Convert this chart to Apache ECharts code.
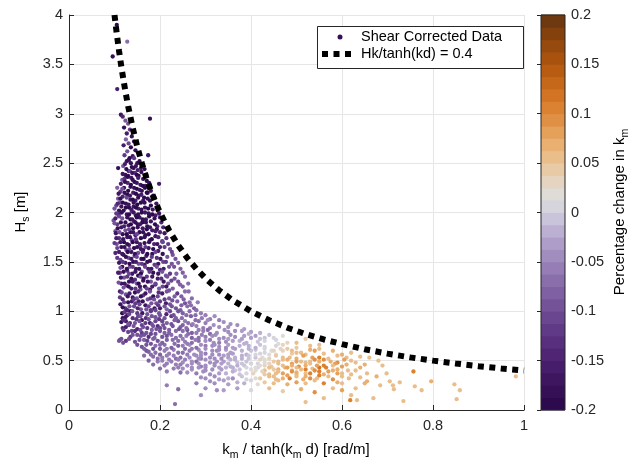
<!DOCTYPE html>
<html><head><meta charset="utf-8">
<script src="https://cdn.jsdelivr.net/npm/echarts@6/dist/echarts.min.js"></script>
<style>html,body{margin:0;padding:0;background:#fff}#c{width:632px;height:462px}</style>
</head><body><div id="c"></div>
<script>
// ---- data ----
// [k/tanh(kd) (rad/m), Hs (m), percentage change in k_m]
const points = [
[.105,3.9,-.19],[.128,3.73,-.07],[.096,3.58,-.18],[.106,3.25,-.16],[.178,2.95,-.18],[.114,2.99,-.17],[.108,2.45,-.18],[.174,2.58,-.17],[.198,2.29,-.16],
[.118,2.97,-.15],[.124,2.93,-.09],[.13,2.9,-.1],[.121,2.86,-.18],[.134,2.84,-.12],[.127,2.8,-.16],[.138,2.77,-.18],[.125,2.74,-.08],[.131,2.7,-.11],[.143,2.72,-.17],[.12,2.68,-.16],[.136,2.66,-.19],[.128,2.62,-.09],[.146,2.63,-.18],[.122,2.58,-.12],[.14,2.57,-.17],[.133,2.55,-.19],
[.127,2.52,-.17],[.15,2.5,-.18],[.119,2.47,-.1],[.138,2.46,-.19],[.158,2.45,-.17],[.131,2.42,-.16],[.145,2.4,-.13],[.124,2.38,-.18],[.153,2.37,-.19],[.137,2.35,-.17],[.163,2.34,-.18],[.117,2.33,-.09],[.144,2.31,-.19],[.129,2.3,-.14],[.157,2.28,-.17],[.168,2.27,-.16],[.135,2.26,-.18],[.121,2.25,-.17],[.149,2.24,-.19],[.16,2.22,-.18],[.113,2.21,-.12],[.141,2.2,-.16],[.173,2.2,-.17],[.128,2.18,-.19],[.153,2.17,-.18],[.165,2.15,-.19],[.108,2.14,-.09],[.118,2.16,-.15],[.135,2.13,-.17],[.146,2.12,-.16],[.178,2.12,-.18],[.158,2.1,-.19],[.125,2.09,-.18],[.106,2.25,-.08],[.112,2.1,-.1],
[.104,2.07,-.11],[.115,2.06,-.17],[.132,2.05,-.19],[.142,2.06,-.17],[.152,2.04,-.16],[.167,2.05,-.18],[.184,2.03,-.17],[.12,2.02,-.18],[.138,2.01,-.12],[.16,2.0,-.19],[.175,1.99,-.18],[.109,1.98,-.16],[.127,1.98,-.17],[.147,1.97,-.18],[.19,1.97,-.16],[.155,1.95,-.17],[.117,1.94,-.09],[.135,1.93,-.19],[.169,1.93,-.17],[.098,1.92,-.1],[.143,1.91,-.16],[.124,1.9,-.18],[.161,1.9,-.19],[.18,1.91,-.17],
[.106,1.88,-.12],[.131,1.87,-.17],[.151,1.88,-.18],[.172,1.86,-.18],[.194,1.86,-.15],[.115,1.85,-.17],[.141,1.84,-.19],[.162,1.84,-.17],[.124,1.82,-.1],[.183,1.82,-.16],[.102,1.81,-.09],[.135,1.8,-.18],[.155,1.8,-.19],[.2,1.8,-.14],[.118,1.78,-.18],[.146,1.77,-.16],[.168,1.77,-.18],[.19,1.76,-.17],[.128,1.75,-.17],[.11,1.74,-.13],[.158,1.74,-.19],[.138,1.72,-.11],[.178,1.72,-.16],[.205,1.71,-.13],[.121,1.7,-.19],[.149,1.7,-.17],[.166,1.69,-.18],[.105,1.68,-.1],[.187,1.68,-.15],[.132,1.67,-.16],[.157,1.66,-.12],[.115,1.65,-.18],[.143,1.64,-.19],[.175,1.64,-.17],[.21,1.65,-.12],[.126,1.62,-.11],[.163,1.62,-.18],[.196,1.61,-.16],[.137,1.6,-.17],[.152,1.59,-.1],[.11,1.6,-.16],[.183,1.58,-.18],
[.12,1.57,-.17],[.144,1.56,-.12],[.17,1.56,-.16],[.228,1.57,-.1],[.131,1.54,-.09],[.159,1.53,-.18],[.193,1.54,-.13],[.113,1.52,-.11],[.178,1.51,-.17],[.141,1.5,-.18],[.207,1.5,-.11],[.124,1.49,-.16],[.153,1.48,-.09],[.166,1.47,-.17],[.188,1.47,-.12],[.117,1.45,-.18],[.134,1.45,-.1],[.22,1.45,-.09],[.147,1.43,-.17],[.174,1.43,-.16],[.2,1.42,-.14],[.128,1.41,-.13],[.16,1.4,-.1],[.185,1.39,-.18],[.112,1.39,-.12],[.139,1.38,-.17],[.236,1.38,-.08],[.152,1.36,-.19],[.171,1.35,-.12],[.213,1.36,-.1],[.121,1.34,-.09],[.195,1.33,-.16],[.145,1.32,-.13],[.163,1.31,-.17],[.132,1.3,-.18],[.18,1.3,-.09],[.225,1.31,-.11],
[.115,1.28,-.17],[.149,1.28,-.1],[.19,1.27,-.15],[.244,1.27,-.08],[.127,1.26,-.12],[.167,1.25,-.18],[.206,1.25,-.11],[.137,1.23,-.16],[.157,1.22,-.09],[.178,1.22,-.17],[.22,1.21,-.09],[.112,1.2,-.16],[.145,1.19,-.18],[.197,1.19,-.13],[.255,1.2,-.07],[.125,1.17,-.1],[.163,1.16,-.12],[.185,1.15,-.18],[.232,1.15,-.08],[.14,1.14,-.17],[.118,1.12,-.14],[.173,1.12,-.1],[.21,1.12,-.12],[.153,1.1,-.16],[.13,1.09,-.18],[.192,1.08,-.09],[.265,1.09,-.07],[.113,1.07,-.17],[.168,1.06,-.17],[.143,1.05,-.11],[.226,1.05,-.09],[.2,1.03,-.16],[.124,1.03,-.13],[.158,1.02,-.1],[.18,1.01,-.13],[.245,1.01,-.08],[.135,1.0,-.18],
[.117,.98,-.19],[.128,.96,-.17],[.15,.98,-.12],[.172,.97,-.1],[.214,.97,-.14],[.278,.96,-.07],[.118,.93,-.18],[.14,.93,-.13],[.19,.94,-.09],[.235,.93,-.08],[.16,.91,-.17],[.125,.9,-.16],[.205,.9,-.11],[.255,.9,-.06],[.31,.92,-.06],[.145,.88,-.1],[.178,.88,-.16],[.225,.87,-.09],[.132,.86,-.12],[.195,.85,-.13],[.27,.86,-.07],[.163,.84,-.09],[.245,.84,-.08],[.118,.83,-.15],[.21,.83,-.1],[.295,.83,-.06],[.15,.82,-.14],[.182,.81,-.08],[.33,.84,-.05],[.235,.8,-.07],[.138,.8,-.11],[.26,.81,-.1],
[.115,.72,-.1],[.11,.7,-.09],[.125,.7,-.12],[.16,.78,-.12],[.19,.77,-.09],[.22,.78,-.08],[.28,.78,-.06],[.31,.77,-.07],[.35,.79,-.05],[.38,.8,-.03],[.42,.78,-.02],[.15,.76,-.1],[.175,.74,-.13],[.205,.74,-.09],[.245,.75,-.07],[.27,.73,-.08],[.3,.74,-.06],[.33,.72,-.05],[.365,.74,-.04],[.4,.73,-.03],[.44,.76,-.01],[.165,.71,-.08],[.195,.7,-.1],[.228,.71,-.07],[.255,.69,-.06],[.285,.7,-.07],[.318,.68,-.05],[.345,.69,-.04],[.375,.7,-.02],[.415,.69,-.01],[.455,.71,.01],[.18,.67,-.09],[.21,.66,-.07],[.24,.65,-.08],[.265,.66,-.05],[.3,.65,-.06],[.33,.64,-.04],[.36,.63,-.03],[.395,.65,-.02],[.43,.64,.0],[.47,.66,.03],[.5,.68,.05],[.52,.72,.04],[.2,.62,-.08],[.23,.61,-.06],[.255,.62,-.07],[.285,.61,-.05],[.315,.6,-.05],[.345,.61,-.03],[.38,.6,-.02],[.41,.61,-.01],[.445,.6,.02],[.48,.62,.04],[.55,.62,.06],[.58,.6,.07],
[.19,.58,-.07],[.22,.57,-.06],[.25,.58,-.07],[.275,.56,-.05],[.3,.57,-.06],[.33,.56,-.04],[.36,.57,-.03],[.39,.56,-.02],[.42,.57,.01],[.455,.56,.02],[.49,.57,.04],[.52,.56,.06],[.56,.57,.05],[.6,.56,.07],[.205,.53,-.06],[.235,.52,-.07],[.265,.53,-.05],[.29,.52,-.06],[.32,.52,-.04],[.35,.53,-.03],[.38,.52,-.02],[.41,.53,-.01],[.44,.52,.03],[.47,.53,.05],[.5,.52,.07],[.535,.53,.08],[.57,.52,.06],[.61,.53,.05],[.66,.53,.06],[.225,.49,-.06],[.25,.48,-.05],[.28,.49,-.07],[.31,.48,-.04],[.34,.49,-.03],[.37,.48,-.01],[.4,.47,.0],[.43,.48,.02],[.46,.49,.06],[.49,.47,.08],[.52,.48,.05],[.55,.49,.07],[.59,.48,.09],[.62,.5,.06],[.26,.45,-.05],[.29,.44,-.06],[.32,.45,-.04],[.355,.44,-.02],[.385,.45,-.01],[.415,.43,.01],[.445,.44,.04],[.475,.43,.07],[.505,.44,.09],[.535,.42,.06],[.565,.43,.1],[.6,.44,.08],[.64,.43,.07],[.689,.45,.05],[.27,.41,-.05],[.3,.4,-.04],[.335,.41,-.03],[.365,.4,-.01],[.4,.41,.02],[.43,.4,.05],[.46,.41,.07],[.49,.4,.06],[.52,.41,.1],[.55,.39,.11],[.58,.4,.07],[.613,.4,.06],
[.165,.55,-.07],[.175,.5,-.08],[.185,.46,-.07],[.17,.6,-.09],[.195,.49,-.06],[.21,.45,-.06],[.2,.42,-.07],[.23,.42,-.06],[.245,.38,-.07],[.215,.39,-.06],
[.28,.37,-.06],[.31,.36,-.04],[.345,.37,-.02],[.375,.36,-.01],[.405,.37,.03],[.44,.36,.05],[.47,.37,.08],[.5,.36,.06],[.53,.37,.11],[.56,.36,.07],[.59,.37,.08],[.62,.36,.05],[.655,.37,.06],[.676,.34,.07],[.698,.37,.05],[.757,.39,.11],[.3,.32,-.05],[.33,.31,-.03],[.36,.32,-.04],[.39,.31,.0],[.42,.32,.04],[.455,.31,.06],[.485,.32,.1],[.515,.31,.07],[.545,.32,.05],[.58,.31,.09],[.615,.32,.06],[.64,.33,.05],[.655,.29,.07],[.705,.29,.05],[.727,.28,.06],[.796,.29,.07],[.32,.27,-.04],[.35,.26,-.03],[.385,.27,-.02],[.415,.26,.02],[.45,.27,.05],[.48,.26,.07],[.52,.27,.06],[.56,.27,.1],[.6,.27,.05],[.63,.22,.06],[.65,.27,.07],[.684,.25,.06],[.712,.25,.05],[.76,.24,.05],
[.3,.22,-.05],[.34,.2,-.03],[.29,.15,-.05],[.37,.22,-.03],[.4,.2,.01],[.44,.22,.05],[.47,.19,.04],[.51,.21,.07],[.54,.18,.09],[.58,.22,.06],[.6,.2,.08],[.62,.15,.05],[.56,.12,.06],[.618,.1,.1],[.633,.1,.05],[.669,.12,.06],[.714,.21,.05],[.735,.09,.06],[.775,.2,.05],[.847,.26,.06],[.859,.2,.05],[.852,.11,.06],[.982,.34,.05],[.233,.06,-.07],[.52,.08,.06],
[.215,.25,-.06],[.24,.21,-.07],[.28,.27,-.06],[.325,.2,-.05],[.112,.71,-.1],[.119,.68,-.09]
];
// denser core of the cloud, read row by row
const pointsCore = [
[.131,2.53,-.18],[.143,2.55,-.12],[.155,2.52,-.19],
[.123,2.49,-.16],[.136,2.5,-.18],[.147,2.47,-.17],[.162,2.49,-.18],
[.126,2.44,-.19],[.134,2.42,-.11],[.142,2.45,-.18],[.151,2.43,-.16],[.166,2.44,-.19],
[.118,2.39,-.17],[.13,2.37,-.18],[.139,2.4,-.17],[.149,2.38,-.19],[.159,2.41,-.18],[.17,2.38,-.17],
[.122,2.34,-.13],[.129,2.36,-.19],[.14,2.33,-.18],[.152,2.35,-.16],[.171,2.32,-.19],
[.114,2.29,-.16],[.123,2.31,-.18],[.136,2.28,-.19],[.149,2.3,-.17],[.162,2.27,-.19],[.176,2.3,-.18],
[.117,2.24,-.1],[.13,2.22,-.19],[.143,2.25,-.18],[.155,2.23,-.17],[.167,2.25,-.19],[.18,2.22,-.17],
[.109,2.19,-.17],[.122,2.2,-.18],[.134,2.17,-.17],[.147,2.19,-.19],[.159,2.18,-.16],[.171,2.2,-.19],[.185,2.17,-.18],
[.113,2.14,-.18],[.127,2.15,-.11],[.14,2.13,-.19],[.152,2.15,-.18],[.163,2.12,-.17],[.173,2.14,-.18],[.188,2.15,-.17],
[.107,2.09,-.14],[.118,2.1,-.19],[.131,2.08,-.17],[.142,2.1,-.18],[.15,2.08,-.19],[.166,2.1,-.18],[.18,2.07,-.19],[.192,2.09,-.17],
[.1,2.04,-.1],[.11,2.02,-.18],[.125,2.05,-.19],[.137,2.03,-.16],[.147,2.05,-.19],[.159,2.03,-.18],[.174,2.04,-.19],[.195,2.02,-.16],
[.104,1.99,-.12],[.116,2.0,-.18],[.132,1.98,-.19],[.142,2.0,-.17],[.152,1.98,-.18],[.167,2.0,-.17],[.183,1.98,-.19],[.198,1.99,-.17],
[.102,1.94,-.16],[.11,1.96,-.11],[.128,1.95,-.18],[.139,1.93,-.17],[.149,1.95,-.19],[.162,1.93,-.18],[.176,1.96,-.19],[.188,1.94,-.18],[.2,1.95,-.16],
[.1,1.89,-.09],[.114,1.9,-.18],[.136,1.88,-.19],[.146,1.9,-.18],[.156,1.88,-.17],[.169,1.9,-.18],[.189,1.88,-.19],[.203,1.9,-.15],
[.107,1.84,-.18],[.121,1.86,-.16],[.132,1.83,-.11],[.151,1.85,-.18],[.171,1.83,-.19],[.178,1.85,-.17],[.193,1.83,-.18],[.207,1.85,-.14],
[.103,1.79,-.17],[.111,1.8,-.1],[.127,1.78,-.19],[.141,1.8,-.17],[.149,1.78,-.11],[.163,1.8,-.18],[.175,1.78,-.19],[.19,1.81,-.16],[.21,1.79,-.17],
[.104,1.74,-.16],[.119,1.73,-.17],[.134,1.75,-.18],[.147,1.73,-.12],[.166,1.75,-.18],[.182,1.73,-.19],[.196,1.75,-.15],[.214,1.74,-.13],
[.1,1.69,-.12],[.113,1.7,-.17],[.128,1.68,-.18],[.14,1.7,-.19],[.156,1.68,-.16],[.176,1.7,-.18],[.194,1.68,-.17],[.206,1.7,-.11],[.218,1.68,-.12],
[.106,1.64,-.11],[.122,1.65,-.18],[.133,1.63,-.1],[.15,1.65,-.18],[.158,1.63,-.17],[.168,1.65,-.12],[.185,1.63,-.19],[.2,1.65,-.16],[.222,1.63,-.1],
[.102,1.59,-.14],[.117,1.58,-.17],[.129,1.6,-.19],[.145,1.58,-.18],[.162,1.6,-.16],[.172,1.58,-.19],[.19,1.6,-.11],[.206,1.58,-.18],[.226,1.6,-.11],
[.106,1.54,-.12],[.125,1.55,-.18],[.137,1.53,-.17],[.149,1.55,-.11],[.164,1.53,-.19],[.182,1.55,-.12],[.201,1.53,-.17],[.216,1.55,-.1],[.234,1.53,-.09],
[.11,1.49,-.17],[.118,1.5,-.12],[.133,1.48,-.19],[.147,1.5,-.16],[.16,1.48,-.12],[.172,1.5,-.18],[.196,1.48,-.17],[.213,1.5,-.12],[.226,1.48,-.1],[.24,1.49,-.08],
[.113,1.44,-.1],[.127,1.43,-.18],[.14,1.45,-.12],[.154,1.43,-.18],[.167,1.45,-.11],[.181,1.43,-.17],[.193,1.45,-.1],[.208,1.43,-.16],[.231,1.45,-.09],[.245,1.43,-.08],
[.108,1.39,-.16],[.12,1.4,-.18],[.132,1.38,-.11],[.146,1.4,-.17],[.158,1.38,-.19],[.177,1.4,-.12],[.196,1.38,-.17],[.205,1.4,-.1],[.222,1.38,-.12],[.25,1.39,-.08],
[.114,1.34,-.17],[.128,1.35,-.12],[.137,1.33,-.18],[.157,1.35,-.1],[.164,1.33,-.18],[.183,1.35,-.17],[.203,1.33,-.13],[.216,1.35,-.09],[.232,1.33,-.1],[.255,1.35,-.07],
[.109,1.29,-.1],[.122,1.28,-.17],[.14,1.3,-.16],[.153,1.28,-.19],[.173,1.3,-.17],[.19,1.28,-.11],[.208,1.3,-.17],[.218,1.28,-.1],[.24,1.3,-.09],[.262,1.28,-.07],
[.12,1.24,-.1],[.131,1.25,-.18],[.146,1.23,-.12],[.156,1.25,-.17],[.171,1.23,-.11],[.183,1.25,-.16],[.198,1.23,-.1],[.214,1.25,-.17],[.228,1.23,-.08],[.25,1.25,-.08],
[.116,1.19,-.11],[.133,1.18,-.16],[.152,1.2,-.13],[.168,1.18,-.17],[.178,1.2,-.1],[.205,1.18,-.16],[.215,1.2,-.09],[.238,1.18,-.12],[.263,1.2,-.07],
[.112,1.14,-.12],[.129,1.15,-.17],[.149,1.13,-.1],[.158,1.15,-.18],[.179,1.13,-.12],[.195,1.15,-.11],[.22,1.13,-.09],[.247,1.15,-.08],[.27,1.13,-.07],
[.121,1.09,-.11],[.138,1.1,-.16],[.146,1.08,-.12],[.162,1.1,-.18],[.181,1.08,-.1],[.2,1.1,-.12],[.213,1.08,-.16],[.238,1.1,-.08],[.255,1.08,-.09],[.283,1.09,-.06],
[.118,1.04,-.18],[.133,1.05,-.1],[.151,1.03,-.15],[.175,1.05,-.11],[.188,1.03,-.17],[.21,1.05,-.09],[.235,1.03,-.1],[.26,1.05,-.07],[.275,1.03,-.08]
];
// denser lower part of the cloud (light purple to orange)
const pointsLow = [
[.122,.99,-.12],[.139,1.0,-.1],[.161,.98,-.17],[.18,1.0,-.12],[.198,.98,-.09],[.222,1.0,-.11],[.25,.98,-.08],[.265,1.0,-.07],[.29,.98,-.06],
[.124,.94,-.17],[.152,.95,-.11],[.169,.93,-.13],[.182,.95,-.1],[.21,.93,-.1],[.225,.95,-.12],[.248,.93,-.07],[.268,.95,-.08],[.292,.93,-.06],[.32,.95,-.05],
[.115,.89,-.18],[.134,.88,-.13],[.155,.9,-.09],[.168,.88,-.12],[.19,.9,-.11],[.215,.88,-.08],[.24,.9,-.1],[.262,.88,-.07],[.285,.9,-.07],[.3,.88,-.06],[.34,.89,-.05],
[.125,.84,-.16],[.142,.85,-.1],[.172,.83,-.12],[.185,.85,-.09],[.2,.83,-.11],[.228,.85,-.1],[.258,.83,-.07],[.28,.85,-.06],[.31,.83,-.06],[.35,.84,-.04],[.37,.86,-.04],
[.13,.79,-.11],[.145,.8,-.13],[.17,.78,-.09],[.2,.8,-.1],[.21,.78,-.08],[.25,.8,-.07],[.27,.78,-.08],[.295,.8,-.06],[.325,.78,-.05],[.365,.8,-.04],[.4,.79,-.03],
[.135,.74,-.12],[.158,.75,-.1],[.188,.73,-.08],[.215,.75,-.09],[.235,.73,-.07],[.258,.75,-.06],[.285,.73,-.07],[.315,.75,-.05],[.34,.73,-.05],[.385,.75,-.03],[.43,.73,-.01],[.47,.75,.02],
[.145,.69,-.09],[.172,.7,-.11],[.205,.68,-.08],[.24,.7,-.07],[.27,.68,-.07],[.3,.7,-.05],[.33,.68,-.06],[.36,.7,-.03],[.39,.68,-.02],[.43,.7,.0],[.48,.68,.03],[.55,.66,.06],
[.16,.64,-.09],[.19,.65,-.07],[.225,.63,-.08],[.25,.65,-.06],[.28,.63,-.07],[.315,.65,-.05],[.345,.63,-.04],[.375,.65,-.02],[.41,.63,-.02],[.455,.65,.01],[.5,.63,.04],[.53,.65,.06],
[.175,.59,-.08],[.21,.6,-.06],[.24,.58,-.07],[.265,.6,-.06],[.29,.58,-.05],[.325,.6,-.05],[.355,.58,-.03],[.4,.6,-.01],[.43,.58,.01],[.47,.6,.03],[.51,.58,.06],[.54,.6,.08],[.62,.58,.06],
[.185,.54,-.07],[.215,.55,-.06],[.245,.53,-.07],[.28,.55,-.05],[.31,.53,-.05],[.34,.55,-.03],[.365,.53,-.02],[.395,.55,-.01],[.425,.53,.02],[.455,.55,.04],[.485,.53,.06],[.515,.55,.08],[.55,.53,.1],[.59,.55,.06],[.64,.54,.05],
[.205,.5,-.06],[.24,.51,-.06],[.27,.49,-.05],[.3,.51,-.05],[.325,.49,-.04],[.355,.51,-.02],[.39,.49,-.01],[.42,.51,.03],[.45,.49,.04],[.48,.51,.07],[.51,.49,.05],[.54,.51,.09],[.575,.49,.07],[.605,.51,.08],[.68,.5,.06],
[.235,.46,-.06],[.27,.47,-.05],[.3,.45,-.04],[.335,.47,-.03],[.37,.45,-.02],[.4,.47,.01],[.43,.45,.03],[.46,.47,.05],[.49,.45,.07],[.53,.47,.06],[.56,.45,.1],[.585,.47,.08],[.65,.46,.07],
[.25,.42,-.05],[.285,.43,-.05],[.315,.41,-.04],[.345,.43,-.02],[.375,.41,-.01],[.41,.43,.02],[.45,.41,.04],[.48,.43,.08],[.51,.41,.06],[.55,.43,.12],[.59,.41,.07],[.63,.4,.05],
[.26,.38,-.05],[.295,.39,-.04],[.33,.37,-.03],[.36,.39,-.02],[.39,.37,.01],[.425,.39,.03],[.455,.37,.06],[.49,.39,.09],[.52,.37,.05],[.57,.39,.08],[.6,.37,.06],
[.29,.33,-.05],[.32,.34,-.04],[.35,.32,-.02],[.38,.34,-.01],[.41,.32,.02],[.44,.34,.06],[.47,.32,.07],[.5,.34,.05],[.53,.32,.09],[.57,.34,.06],
[.31,.29,-.04],[.34,.3,-.03],[.37,.28,-.02],[.4,.3,.01],[.43,.28,.04],[.46,.3,.06],[.5,.28,.08],[.54,.3,.06],[.59,.28,.07]
];
// extra points filling the middle band of the cloud
const pointsMid = [
[.142,1.12,-.12],[.187,1.12,-.1],[.227,1.11,-.09],[.252,1.12,-.08],
[.155,1.07,-.11],[.196,1.06,-.12],[.222,1.07,-.1],[.247,1.06,-.08],[.268,1.06,-.07],
[.128,1.01,-.14],[.17,1.02,-.1],[.19,1.01,-.11],[.215,1.02,-.08],[.24,1.0,-.09],[.28,1.01,-.07],
[.132,.97,-.11],[.157,.95,-.1],[.2,.96,-.09],[.23,.96,-.1],[.258,.96,-.07],[.3,.96,-.06],
[.12,.91,-.13],[.148,.92,-.12],[.175,.92,-.09],[.198,.92,-.12],[.232,.91,-.08],[.278,.91,-.07],[.305,.91,-.05],[.33,.91,-.06],
[.13,.87,-.1],[.16,.86,-.11],[.182,.87,-.1],[.207,.86,-.09],[.25,.86,-.08],[.272,.87,-.06],[.318,.86,-.05],[.355,.87,-.04],
[.12,.81,-.12],[.157,.81,-.09],[.192,.82,-.1],[.22,.81,-.08],[.242,.82,-.09],[.285,.81,-.06],[.305,.81,-.07],[.342,.81,-.04],[.385,.82,-.03],
[.14,.76,-.1],[.165,.76,-.09],[.18,.77,-.11],[.225,.76,-.07],[.262,.77,-.07],[.292,.76,-.06],[.322,.76,-.05],[.355,.76,-.04],[.395,.77,-.02],[.41,.75,-.03],
[.132,.72,-.09],[.155,.71,-.1],[.185,.72,-.08],[.215,.71,-.08],[.25,.72,-.06],[.278,.71,-.06],[.31,.71,-.06],[.35,.72,-.03],[.38,.72,-.03],[.42,.72,-.01],[.45,.73,.0],
[.15,.66,-.09],[.17,.66,-.1],[.2,.66,-.07],[.232,.67,-.07],[.26,.67,-.06],[.29,.66,-.05],[.32,.66,-.05],[.35,.66,-.03],[.385,.67,-.02],[.42,.66,-.01],[.46,.67,.02],
[.165,.62,-.08],[.185,.62,-.09],[.215,.62,-.06],[.27,.62,-.06],[.3,.62,-.05],[.33,.61,-.04],[.365,.62,-.03],[.395,.62,-.02],[.43,.62,.0],[.465,.62,.03],
[.18,.56,-.07],[.2,.56,-.08],[.23,.55,-.06],[.26,.56,-.06],[.29,.55,-.05],[.315,.56,-.04],[.35,.56,-.03],[.38,.55,-.02],[.41,.56,.0],[.44,.56,.02],
[.195,.52,-.07],[.22,.51,-.06],[.255,.51,-.06],[.285,.52,-.05],[.335,.52,-.04],[.365,.51,-.02],[.395,.52,-.01],[.43,.51,.02],
[.215,.47,-.06],[.245,.46,-.06],[.285,.47,-.05],[.32,.47,-.04],[.35,.47,-.02],[.38,.47,-.01],[.415,.47,.01],
[.24,.43,-.06],[.27,.43,-.05],[.3,.43,-.05],[.33,.43,-.03],[.36,.43,-.02],[.39,.43,.0],
[.45,.6,.03],[.49,.6,.05],[.53,.61,.07],[.5,.58,.06],[.47,.51,.06],[.5,.49,.08],[.53,.49,.06],[.56,.51,.09],[.52,.45,.07],[.545,.45,.08],[.5,.43,.06],[.47,.45,.05],[.44,.47,.03],[.42,.45,.02],[.46,.39,.06],[.5,.38,.07],[.54,.4,.09],[.58,.45,.06],[.61,.46,.07],[.63,.48,.05],[.45,.34,.05],[.48,.35,.08],[.52,.34,.07],[.55,.35,.1],[.6,.34,.06],[.43,.36,.04],[.41,.4,.02],[.44,.43,.05]
];
// Hk/tanh(kd) = 0.4 curve: [k/tanh(kd), Hs]
const limitCurve = [
[0.1,4],[0.105,3.81],[0.11,3.636],[0.115,3.478],[0.12,3.333],[0.125,3.2],[0.13,3.077],[0.14,2.857],[0.15,2.667],[0.16,2.5],[0.17,2.353],[0.18,2.222],[0.19,2.105],[0.2,2],[0.22,1.818],[0.24,1.667],[0.26,1.538],[0.28,1.429],[0.3,1.333],[0.33,1.212],[0.36,1.111],[0.4,1],[0.44,0.909],[0.48,0.833],[0.52,0.769],[0.56,0.714],[0.6,0.667],[0.65,0.615],[0.7,0.571],[0.75,0.533],[0.8,0.5],[0.85,0.471],[0.9,0.444],[0.95,0.421],[1,0.4]
];
// colour bar levels (edges)
const cbEdges = [-0.2,-0.1875,-0.175,-0.1625,-0.15,-0.1375,-0.125,-0.1125,-0.1,-0.0875,-0.075,-0.0625,-0.05,-0.0375,-0.025,-0.0125,0,0.0125,0.025,0.0375,0.05,0.0625,0.075,0.0875,0.1,0.1125,0.125,0.1375,0.15,0.1625,0.175,0.1875,0.2];
const seriesNames = ['Shear Corrected Data','Hk/tanh(kd) = 0.4'];

// ---- styles ----
const palette = ['#2d0a4e','#351056','#3d165f','#461d6a','#4f2574','#582f7e','#613a87','#6a4690','#745399','#7f60a2','#8a6eab','#967db5','#a28dbf','#ae9dc8','#bbb0d2','#c9c4da','#d6d4dd','#dfdbd6','#e5d4c0','#e8caa6','#eabe8b','#e9b072','#e5a059','#e09044','#da8132','#d27423','#c6681a','#b85c12','#a8520e','#964a0d','#83410e','#6e3810'];
const FONT = '"Liberation Sans", Arial, Helvetica, sans-serif';
const TXT = '#262626';

const allPoints = points.concat(pointsCore, pointsLow, pointsMid);
const pieces = [];
const bands = [];
for (let i = 0; i < cbEdges.length - 1; i++) {
  const p = {gte: cbEdges[i], color: palette[i]};
  if (i < cbEdges.length - 2) p.lt = cbEdges[i+1]; else p.lte = cbEdges[i+1];
  pieces.push(p);
  bands.push([0.5, cbEdges[i], cbEdges[i+1]]);
}

const chart = echarts.init(document.getElementById('c'), null, {renderer: 'canvas'});
const sub = {fontSize: 10.5, fontFamily: FONT, color: TXT, padding: [10,0,0,0]};
const nrm = {fontSize: 15, fontFamily: FONT, color: TXT};

chart.setOption({
  animation: false,
  backgroundColor: '#fff',
  grid: [
    {left: 69, top: 15, width: 455, height: 395, containLabel: false},
    {left: 541, top: 15, width: 24, height: 395, show: true, borderColor: '#262626', borderWidth: 1, backgroundColor: 'transparent', z: 5}
  ],
  xAxis: [
    {type: 'value', gridIndex: 0, min: 0, max: 1, interval: 0.2,
     axisLine: {show: true, onZero: false, lineStyle: {color: TXT, width: 1}},
     axisTick: {show: true, inside: true, length: 5, lineStyle: {color: TXT}},
     axisLabel: {color: TXT, fontSize: 14.5, fontFamily: FONT, margin: 8},
     splitLine: {show: true, lineStyle: {color: '#e6e6e6', width: 1}}},
    {type: 'value', gridIndex: 1, min: 0, max: 1, show: false}
  ],
  yAxis: [
    {type: 'value', gridIndex: 0, min: 0, max: 4, interval: 0.5,
     axisLine: {show: true, onZero: false, lineStyle: {color: TXT, width: 1}},
     axisTick: {show: true, inside: true, length: 5, lineStyle: {color: TXT}},
     axisLabel: {color: TXT, fontSize: 14.5, fontFamily: FONT, margin: 6},
     splitLine: {show: true, lineStyle: {color: '#e6e6e6', width: 1}}},
    {type: 'value', gridIndex: 1, min: -0.2, max: 0.2, interval: 0.05, position: 'right',
     axisLine: {show: false},
     axisTick: {show: true, inside: true, length: 4, lineStyle: {color: TXT}},
     axisLabel: {color: TXT, fontSize: 14.5, fontFamily: FONT, margin: 6},
     splitLine: {show: false}}
  ],
  visualMap: {type: 'piecewise', show: false, seriesIndex: 0, dimension: 2, pieces: pieces},
  series: [
    {name: seriesNames[0], type: 'scatter', xAxisIndex: 0, yAxisIndex: 0, data: allPoints,
     symbol: 'circle', symbolSize: 4.3, itemStyle: {opacity: 1, borderWidth: 0}, z: 2},
    {name: seriesNames[1], type: 'line', xAxisIndex: 0, yAxisIndex: 0, data: limitCurve,
     showSymbol: false, symbol: 'none', smooth: false,
     lineStyle: {color: '#000', width: 6, type: [6, 5.5], cap: 'butt'}, z: 3},
    {type: 'custom', xAxisIndex: 1, yAxisIndex: 1, data: bands, encode: {x: 0, y: [1, 2]}, z: 1,
     renderItem: function (params, api) {
       const a = api.coord([0, api.value(2)]);
       const b = api.coord([1, api.value(1)]);
       return {type: 'rect', shape: {x: a[0], y: a[1] - 0.4, width: b[0]-a[0], height: b[1]-a[1] + 0.8},
               style: {fill: palette[params.dataIndex]}};
     }}
  ],
  graphic: [
    // legend
    {type: 'rect', left: 317, top: 26, shape: {width: 206, height: 42}, style: {fill: '#fff', stroke: '#262626', lineWidth: 1}, z: 10},
    {type: 'circle', shape: {cx: 340, cy: 37, r: 2.5}, style: {fill: palette[1]}, z: 11},
    {type: 'text', x: 361, y: 37, style: {text: seriesNames[0], font: '14.5px ' + FONT, fill: '#000', verticalAlign: 'middle'}, z: 11},
    {type: 'line', shape: {x1: 322, y1: 54, x2: 356, y2: 54}, style: {stroke: '#000', lineWidth: 6, lineDash: [6, 5.5]}, z: 11},
    {type: 'text', x: 361, y: 54, style: {text: seriesNames[1], font: '14.5px ' + FONT, fill: '#000', verticalAlign: 'middle'}, z: 11},
    // x axis title
    {type: 'text', x: 296, y: 450, style: {text: '{n|k}{s|m}{n| / tanh(k}{s|m}{n| d) [rad/m]}', rich: {n: nrm, s: sub}, align: 'center', verticalAlign: 'middle'}, z: 11},
    // y axis title
    {type: 'text', x: 21, y: 212, rotation: Math.PI/2, style: {text: '{n|H}{s|s}{n| [m]}', rich: {n: nrm, s: sub}, align: 'center', verticalAlign: 'middle'}, z: 11},
    // colour bar title
    {type: 'text', x: 620, y: 212, rotation: Math.PI/2, style: {text: '{n|Percentage change in k}{s|m}', rich: {n: nrm, s: sub}, align: 'center', verticalAlign: 'middle'}, z: 11}
  ]
});
</script>
</body></html>
